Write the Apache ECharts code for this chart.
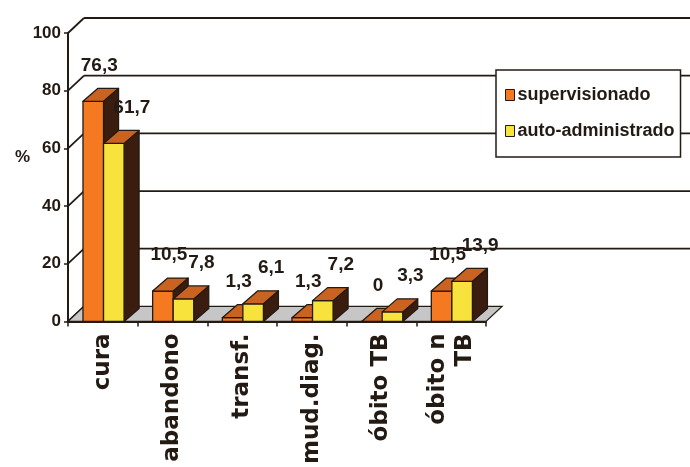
<!DOCTYPE html>
<html>
<head>
<meta charset="utf-8">
<script src="https://cdn.jsdelivr.net/npm/echarts@6/dist/echarts.min.js"></script>
<style>
  html, body { margin: 0; padding: 0; background: #ffffff; }
  #chart { width: 690px; height: 467px; }
</style>
</head>
<body>
<div id="chart"></div>
<script>
// Treatment outcome (%) by regimen
const categories = ['cura', 'abandono', 'transf.', 'mud.diag.', 'óbito TB', 'óbito n\nTB'];
const supervisionado = [76.3, 10.5, 1.3, 1.3, 0, 10.5];
const autoAdministrado = [61.7, 7.8, 6.1, 7.2, 3.3, 13.9];
const seriesNames = ['supervisionado', 'auto-administrado'];
const yTicks = [0, 20, 40, 60, 80, 100];

const SANS = "'Liberation Sans', Arial, sans-serif";
const WIDE = "'DejaVu Sans', sans-serif";
const INK = '#231a14';
const ORANGE = '#f47921';
const YELLOW = '#f8e23c';
const TOP = '#c9631f';
const SIDE = '#3a1d0e';
const FLOOR = '#c6c6c6';

// depth offsets for the bar prisms and for the wall/floor
const DX = 15, DY = -13;
const WX = 16, WY = -15;

const fmt = v => String(v).replace('.', ',');

// A 3D prism: front face, top face, right side face, plus the value label
function prism(slot, frontColor) {
  return function (params, api) {
    const i = api.value(0);
    const v = api.value(1);
    const top = api.coord([i, v]);
    const base = api.coord([i, 0])[1];
    const band = api.size([1, 0])[0];
    const w = band * 0.295;
    const x0 = top[0] - band / 2 + band * 0.215 + slot * w;
    const y = top[1];
    const line = { stroke: INK, lineWidth: 1.3, lineJoin: 'round' };
    return {
      type: 'group',
      children: [
        { type: 'polygon', shape: { points: [[x0 + w, base], [x0 + w + DX, base + DY], [x0 + w + DX, y + DY], [x0 + w, y]] },
          style: Object.assign({ fill: SIDE }, line) },
        { type: 'polygon', shape: { points: [[x0, base], [x0 + w, base], [x0 + w, y], [x0, y]] },
          style: Object.assign({ fill: frontColor }, line) },
        { type: 'polygon', shape: { points: [[x0, y], [x0 + w, y], [x0 + w + DX, y + DY], [x0 + DX, y + DY]] },
          style: Object.assign({ fill: TOP }, line) },
        { type: 'text', z2: 10,
          style: { text: fmt(v), x: x0 + w / 2 + 6 + slot * 12, y: y - 36, align: 'center', verticalAlign: 'middle',
                   font: 'bold 19px ' + SANS, fill: INK } }
      ]
    };
  };
}

// Back-wall gridlines with the diagonal joining each tick to the wall
function wallLines(params, api) {
  const t = api.value(1);
  const cs = params.coordSys;
  const y = api.coord([0, t])[1];
  const children = [
    { type: 'line', shape: { x1: cs.x, y1: y, x2: cs.x + WX, y2: y + WY }, style: { stroke: INK, lineWidth: 1.8 } }
  ];
  if (t > 0) {
    children.push({ type: 'line', shape: { x1: cs.x + WX, y1: y + WY, x2: api.getWidth(), y2: y + WY },
      style: { stroke: INK, lineWidth: 1.8 } });
  }
  return { type: 'group', children };
}

// Floor plate under the columns
function floor(params, api) {
  const cs = params.coordSys;
  const y0 = api.coord([0, 0])[1];
  return {
    type: 'polygon',
    shape: { points: [[cs.x, y0], [cs.x + cs.width, y0], [cs.x + cs.width + WX, y0 + WY], [cs.x + WX, y0 + WY]] },
    style: { fill: FLOOR, stroke: INK, lineWidth: 1.3 }
  };
}

const chart = echarts.init(document.getElementById('chart'), null, { renderer: 'canvas' });

chart.setOption({
  animation: false,
  backgroundColor: '#ffffff',
  grid: { left: 68, right: 204, top: 33, bottom: 142, containLabel: false },
  xAxis: {
    type: 'category',
    data: categories,
    axisLine: { lineStyle: { color: INK, width: 2 } },
    axisTick: { show: true, length: 5, lineStyle: { color: INK, width: 1.5 } },
    axisLabel: {
      rotate: 90, margin: 12, color: INK, fontFamily: WIDE, fontWeight: 'bold', fontSize: 23, lineHeight: 27
    },
    splitLine: { show: false }
  },
  yAxis: {
    type: 'value',
    min: 0, max: 100, interval: 20,
    axisLine: { show: true, lineStyle: { color: INK, width: 2 } },
    axisTick: { show: true, length: 4, lineStyle: { color: INK, width: 1.5 } },
    axisLabel: { margin: 7, color: INK, fontFamily: SANS, fontWeight: 'bold', fontSize: 17 },
    splitLine: { show: false }
  },
  legend: {
    data: seriesNames,
    orient: 'vertical',
    left: 496, top: 70,
    padding: [14, 6, 15, 9],
    itemGap: 14,
    itemWidth: 9, itemHeight: 11,
    icon: 'rect',
    itemStyle: { borderColor: INK, borderWidth: 1 },
    backgroundColor: '#ffffff',
    borderColor: INK, borderWidth: 1.5,
    textStyle: { color: INK, fontFamily: SANS, fontWeight: 'bold', fontSize: 18, lineHeight: 22, padding: [0, 0, 0, -2] }
  },
  graphic: [
    { type: 'text', left: 15, top: 149, style: { text: '%', font: 'bold 17px ' + SANS, fill: INK } }
  ],
  series: [
    { type: 'custom', name: 'wall', z: 1, silent: true, renderItem: wallLines,
      data: yTicks.map(t => [0, t]), encode: { x: 0, y: 1 } },
    { type: 'custom', name: 'floor', z: 2, silent: true, renderItem: floor,
      data: [[0, 0]], encode: { x: 0, y: 1 } },
    { type: 'custom', name: seriesNames[0], z: 3, renderItem: prism(0, ORANGE),
      itemStyle: { color: ORANGE },
      data: supervisionado.map((v, i) => [i, v]), encode: { x: 0, y: 1 } },
    { type: 'custom', name: seriesNames[1], z: 4, renderItem: prism(1, YELLOW),
      itemStyle: { color: YELLOW },
      data: autoAdministrado.map((v, i) => [i, v]), encode: { x: 0, y: 1 } }
  ]
});
</script>
</body>
</html>
